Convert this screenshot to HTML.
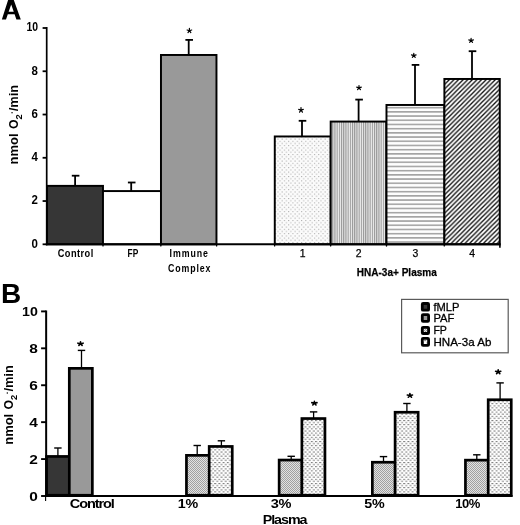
<!DOCTYPE html><html><head><meta charset="utf-8"><style>html,body{margin:0;padding:0;background:#fff;width:520px;height:525px;overflow:hidden}svg{display:block;will-change:transform}text{font-family:"Liberation Sans", sans-serif;fill:#000}</style></head><body>
<svg width="520" height="525" viewBox="0 0 520 525">
<defs>
<pattern id="pdots" width="4.3" height="4.4" patternUnits="userSpaceOnUse"><rect width="4.3" height="4.4" fill="#fbfbfb"/><rect x="0" y="0" width="1.1" height="1" fill="#aaaaaa"/><rect x="2.15" y="2.2" width="1.1" height="1" fill="#aaaaaa"/></pattern>
<pattern id="pvert" width="2.2" height="4" patternUnits="userSpaceOnUse"><rect width="2.2" height="4" fill="#eeeeee"/><rect x="0" y="0" width="1.1" height="4" fill="#959595"/></pattern>
<pattern id="phorz" width="4" height="4.2" patternUnits="userSpaceOnUse" patternTransform="translate(0,1.85)"><rect width="4" height="4.2" fill="#fdfdfd"/><rect x="0" y="0" width="4" height="1.6" fill="#a4a4a4"/></pattern>
<pattern id="pdiag" width="4.6" height="4.6" patternUnits="userSpaceOnUse"><rect width="4.6" height="4.6" fill="#fff"/><path d="M-1,1L1,-1M0,4.6L4.6,0M3.6,5.6L5.6,3.6" stroke="#111" stroke-width="1.35"/></pattern>
<pattern id="pfp" width="2" height="2" patternUnits="userSpaceOnUse"><rect width="2" height="2" fill="#e2e2e2"/><rect x="0" y="0" width="1" height="1" fill="#a0a0a0"/><rect x="1" y="1" width="1" height="1" fill="#a0a0a0"/></pattern>
<pattern id="phna" width="4.2" height="4.2" patternUnits="userSpaceOnUse"><rect width="4.2" height="4.2" fill="#fff"/><rect x="0" y="0" width="2" height="1" fill="#7a7a7a"/><rect x="2.1" y="2.1" width="2" height="1" fill="#7a7a7a"/></pattern>
</defs>
<path fill-rule="evenodd" d="M1.85,19.6L8.42,-1L13.44,-1L20.8,19.6L16.4,19.6L14.6,14.3L7.8,14.3L6.0,19.6ZM8.65,11.8L11.2,4.6L13.75,11.8Z" fill="#000"/>
<rect x="46.98" y="185.88" width="56.00" height="58.45" fill="#363636" stroke="#000" stroke-width="1.95"/>
<rect x="102.97" y="191.07" width="58.00" height="53.25" fill="#fff" stroke="#000" stroke-width="1.95"/>
<rect x="160.97" y="54.98" width="55.50" height="189.35" fill="#999" stroke="#000" stroke-width="1.95"/>
<rect x="274.78" y="136.47" width="55.90" height="107.85" fill="url(#pdots)" stroke="#000" stroke-width="1.95"/>
<rect x="330.68" y="121.57" width="55.80" height="122.75" fill="url(#pvert)" stroke="#000" stroke-width="1.95"/>
<rect x="386.48" y="104.97" width="57.90" height="139.35" fill="url(#phorz)" stroke="#000" stroke-width="1.95"/>
<rect x="444.38" y="78.97" width="55.40" height="165.35" fill="url(#pdiag)" stroke="#000" stroke-width="1.95"/>
<line x1="46.7" y1="27.0" x2="46.7" y2="245.3" stroke="#000" stroke-width="1.7"/>
<line x1="45.8" y1="244.3" x2="500.7" y2="244.3" stroke="#000" stroke-width="2.0"/>
<line x1="103.0" y1="245" x2="103.0" y2="246.6" stroke="#000" stroke-width="1.2"/>
<line x1="160.8" y1="245" x2="160.8" y2="246.6" stroke="#000" stroke-width="1.2"/>
<line x1="216.6" y1="245" x2="216.6" y2="246.6" stroke="#000" stroke-width="1.2"/>
<line x1="274.6" y1="245" x2="274.6" y2="246.6" stroke="#000" stroke-width="1.2"/>
<line x1="330.6" y1="245" x2="330.6" y2="246.6" stroke="#000" stroke-width="1.2"/>
<line x1="386.5" y1="245" x2="386.5" y2="246.6" stroke="#000" stroke-width="1.2"/>
<line x1="444.3" y1="245" x2="444.3" y2="246.6" stroke="#000" stroke-width="1.2"/>
<line x1="499.9" y1="245" x2="499.9" y2="247.8" stroke="#000" stroke-width="1.6"/>
<line x1="42.6" y1="244.3" x2="46.7" y2="244.3" stroke="#000" stroke-width="1.8"/>
<line x1="42.6" y1="201.04000000000002" x2="46.7" y2="201.04000000000002" stroke="#000" stroke-width="1.8"/>
<line x1="42.6" y1="157.78" x2="46.7" y2="157.78" stroke="#000" stroke-width="1.8"/>
<line x1="42.6" y1="114.51999999999998" x2="46.7" y2="114.51999999999998" stroke="#000" stroke-width="1.8"/>
<line x1="42.6" y1="71.25999999999999" x2="46.7" y2="71.25999999999999" stroke="#000" stroke-width="1.8"/>
<line x1="42.6" y1="28.0" x2="46.7" y2="28.0" stroke="#000" stroke-width="1.8"/>
<text x="38.0" y="247.70000000000002" font-size="12.4" font-weight="bold" text-anchor="end" textLength="6.4" lengthAdjust="spacingAndGlyphs">0</text>
<text x="38.0" y="204.44000000000003" font-size="12.4" font-weight="bold" text-anchor="end" textLength="6.4" lengthAdjust="spacingAndGlyphs">2</text>
<text x="38.0" y="161.18" font-size="12.4" font-weight="bold" text-anchor="end" textLength="6.4" lengthAdjust="spacingAndGlyphs">4</text>
<text x="38.0" y="117.91999999999999" font-size="12.4" font-weight="bold" text-anchor="end" textLength="6.4" lengthAdjust="spacingAndGlyphs">6</text>
<text x="38.0" y="74.66" font-size="12.4" font-weight="bold" text-anchor="end" textLength="6.4" lengthAdjust="spacingAndGlyphs">8</text>
<text x="38.0" y="31.4" font-size="12.4" font-weight="bold" text-anchor="end" textLength="11.6" lengthAdjust="spacingAndGlyphs">10</text>
<line x1="75.1" y1="175.70000000000002" x2="75.1" y2="185.9" stroke="#000" stroke-width="1.8"/>
<rect x="71.80" y="174.8" width="7.6" height="1.8" fill="#000"/>
<line x1="131.2" y1="182.5" x2="131.2" y2="191.1" stroke="#000" stroke-width="1.8"/>
<rect x="127.90" y="181.6" width="7.6" height="1.8" fill="#000"/>
<line x1="188.7" y1="39.9" x2="188.7" y2="55.0" stroke="#000" stroke-width="1.8"/>
<rect x="185.40" y="39.0" width="7.6" height="1.8" fill="#000"/>
<line x1="302.0" y1="120.80000000000001" x2="302.0" y2="136.5" stroke="#000" stroke-width="1.8"/>
<rect x="298.70" y="119.9" width="7.6" height="1.8" fill="#000"/>
<line x1="358.6" y1="99.60000000000001" x2="358.6" y2="121.6" stroke="#000" stroke-width="1.8"/>
<rect x="355.30" y="98.7" width="7.6" height="1.8" fill="#000"/>
<line x1="415.0" y1="64.9" x2="415.0" y2="105.0" stroke="#000" stroke-width="1.8"/>
<rect x="411.70" y="64.0" width="7.6" height="1.8" fill="#000"/>
<line x1="472.0" y1="51.199999999999996" x2="472.0" y2="79.0" stroke="#000" stroke-width="1.8"/>
<rect x="468.70" y="50.3" width="7.6" height="1.8" fill="#000"/>
<path d="M189.40,30.72L189.40,28.40M189.40,30.72L191.70,30.00M189.40,30.72L190.82,32.60M189.40,30.72L187.98,32.60M189.40,30.72L187.10,30.00" stroke="#000" stroke-width="1.2" stroke-linecap="round" fill="none"/>
<path d="M301.00,110.14L301.00,107.60M301.00,110.14L303.30,109.36M301.00,110.14L302.42,112.20M301.00,110.14L299.58,112.20M301.00,110.14L298.70,109.36" stroke="#000" stroke-width="1.2" stroke-linecap="round" fill="none"/>
<path d="M359.00,87.81L359.00,85.60M359.00,87.81L361.30,87.13M359.00,87.81L360.42,89.60M359.00,87.81L357.58,89.60M359.00,87.81L356.70,87.13" stroke="#000" stroke-width="1.2" stroke-linecap="round" fill="none"/>
<path d="M413.80,55.61L413.80,53.40M413.80,55.61L416.10,54.93M413.80,55.61L415.22,57.40M413.80,55.61L412.38,57.40M413.80,55.61L411.50,54.93" stroke="#000" stroke-width="1.2" stroke-linecap="round" fill="none"/>
<path d="M471.10,40.61L471.10,38.40M471.10,40.61L473.40,39.93M471.10,40.61L472.52,42.40M471.10,40.61L469.68,42.40M471.10,40.61L468.80,39.93" stroke="#000" stroke-width="1.2" stroke-linecap="round" fill="none"/>
<text transform="translate(57.7,257.0) scale(0.84,1)" font-size="11" font-weight="bold" letter-spacing="0.55" text-anchor="start">Control</text>
<text transform="translate(127.5,257.2) scale(0.76,1)" font-size="11" font-weight="bold" letter-spacing="0.1" text-anchor="start">FP</text>
<text transform="translate(169.6,257.0) scale(0.8,1)" font-size="11" font-weight="bold" letter-spacing="1.15" text-anchor="start">Immune</text>
<text transform="translate(168.0,271.6) scale(0.8,1)" font-size="11" font-weight="bold" letter-spacing="1.1" text-anchor="start">Complex</text>
<text x="302.725" y="256.7" font-size="10.4" font-weight="normal" text-anchor="middle" stroke="#000" stroke-width="0.25">1</text>
<text x="358.57500000000005" y="256.7" font-size="10.4" font-weight="normal" text-anchor="middle" stroke="#000" stroke-width="0.25">2</text>
<text x="415.425" y="256.7" font-size="10.4" font-weight="normal" text-anchor="middle" stroke="#000" stroke-width="0.25">3</text>
<text x="472.07500000000005" y="256.7" font-size="10.4" font-weight="normal" text-anchor="middle" stroke="#000" stroke-width="0.25">4</text>
<text x="396.8" y="275.6" font-size="11.2" font-weight="bold" text-anchor="middle" textLength="80" lengthAdjust="spacingAndGlyphs" stroke="#000" stroke-width="0.25">HNA-3a+ Plasma</text>
<g transform="translate(17.6,164.5) rotate(-90)">
<text x="0" y="0" font-size="12" font-weight="bold" textLength="31.0" lengthAdjust="spacingAndGlyphs">nmol</text><text x="35.4" y="0" font-size="12" font-weight="bold" textLength="9.6" lengthAdjust="spacingAndGlyphs">O</text>
<text x="44.9" y="4.5" font-size="9.4" font-weight="bold" textLength="5.2" lengthAdjust="spacingAndGlyphs">2</text>
<rect x="51.2" y="-6.2" width="1.2" height="1.3" fill="#000"/>
<text x="53.2" y="0" font-size="12" font-weight="bold" textLength="26.4" lengthAdjust="spacingAndGlyphs">/min</text>
</g>
<text x="1.0" y="303.1" font-size="28" font-weight="bold" text-anchor="start">B</text>
<rect x="46.55" y="456.45" width="22.90" height="38.80" fill="#363636" stroke="#000" stroke-width="2.7"/>
<rect x="69.30" y="368.35" width="23.05" height="126.90" fill="#999" stroke="#000" stroke-width="2.7"/>
<rect x="186.45" y="455.35" width="22.90" height="39.90" fill="url(#pfp)" stroke="#000" stroke-width="2.7"/>
<rect x="209.20" y="446.45" width="23.05" height="48.80" fill="url(#phna)" stroke="#000" stroke-width="2.7"/>
<rect x="279.15" y="460.05" width="22.90" height="35.20" fill="url(#pfp)" stroke="#000" stroke-width="2.7"/>
<rect x="301.90" y="418.55" width="23.05" height="76.70" fill="url(#phna)" stroke="#000" stroke-width="2.7"/>
<rect x="372.35" y="462.25" width="22.90" height="33.00" fill="url(#pfp)" stroke="#000" stroke-width="2.7"/>
<rect x="395.10" y="412.25" width="23.05" height="83.00" fill="url(#phna)" stroke="#000" stroke-width="2.7"/>
<rect x="465.45" y="460.15" width="22.90" height="35.10" fill="url(#pfp)" stroke="#000" stroke-width="2.7"/>
<rect x="488.20" y="399.75" width="23.05" height="95.50" fill="url(#phna)" stroke="#000" stroke-width="2.7"/>
<line x1="46.15" y1="310.5" x2="46.15" y2="496.5" stroke="#000" stroke-width="2.0"/>
<line x1="45.6" y1="496.5" x2="45.6" y2="501" stroke="#000" stroke-width="1.1"/>
<line x1="45.2" y1="496.0" x2="512.6" y2="496.0" stroke="#000" stroke-width="1.8"/>
<line x1="41.1" y1="496.0" x2="46.2" y2="496.0" stroke="#000" stroke-width="1.9"/>
<line x1="41.1" y1="459.08" x2="46.2" y2="459.08" stroke="#000" stroke-width="1.9"/>
<line x1="41.1" y1="422.15999999999997" x2="46.2" y2="422.15999999999997" stroke="#000" stroke-width="1.9"/>
<line x1="41.1" y1="385.24" x2="46.2" y2="385.24" stroke="#000" stroke-width="1.9"/>
<line x1="41.1" y1="348.32" x2="46.2" y2="348.32" stroke="#000" stroke-width="1.9"/>
<line x1="41.1" y1="311.4" x2="46.2" y2="311.4" stroke="#000" stroke-width="1.9"/>
<text x="37.9" y="500.5" font-size="12.8" font-weight="bold" text-anchor="end" textLength="8.6" lengthAdjust="spacingAndGlyphs">0</text>
<text x="37.9" y="463.58" font-size="12.8" font-weight="bold" text-anchor="end" textLength="8.6" lengthAdjust="spacingAndGlyphs">2</text>
<text x="37.9" y="426.65999999999997" font-size="12.8" font-weight="bold" text-anchor="end" textLength="8.6" lengthAdjust="spacingAndGlyphs">4</text>
<text x="37.9" y="389.74" font-size="12.8" font-weight="bold" text-anchor="end" textLength="8.6" lengthAdjust="spacingAndGlyphs">6</text>
<text x="37.9" y="352.82" font-size="12.8" font-weight="bold" text-anchor="end" textLength="8.6" lengthAdjust="spacingAndGlyphs">8</text>
<text x="37.9" y="315.9" font-size="12.8" font-weight="bold" text-anchor="end" textLength="15.8" lengthAdjust="spacingAndGlyphs">10</text>
<line x1="57.9" y1="448.0" x2="57.9" y2="456.1" stroke="#000" stroke-width="1.3"/>
<rect x="54.20" y="447.3" width="7.4" height="1.4" fill="#000"/>
<line x1="81.5" y1="350.4" x2="81.5" y2="368.0" stroke="#000" stroke-width="1.3"/>
<rect x="77.80" y="349.7" width="7.4" height="1.4" fill="#000"/>
<line x1="197.2" y1="445.5" x2="197.2" y2="455.0" stroke="#000" stroke-width="1.3"/>
<rect x="193.50" y="444.8" width="7.4" height="1.4" fill="#000"/>
<line x1="221.4" y1="440.8" x2="221.4" y2="446.1" stroke="#000" stroke-width="1.3"/>
<rect x="217.70" y="440.1" width="7.4" height="1.4" fill="#000"/>
<line x1="291.2" y1="456.3" x2="291.2" y2="459.7" stroke="#000" stroke-width="1.3"/>
<rect x="287.50" y="455.6" width="7.4" height="1.4" fill="#000"/>
<line x1="313.6" y1="411.9" x2="313.6" y2="418.2" stroke="#000" stroke-width="1.3"/>
<rect x="309.90" y="411.2" width="7.4" height="1.4" fill="#000"/>
<line x1="383.5" y1="456.59999999999997" x2="383.5" y2="461.9" stroke="#000" stroke-width="1.3"/>
<rect x="379.80" y="455.9" width="7.4" height="1.4" fill="#000"/>
<line x1="406.9" y1="403.5" x2="406.9" y2="411.9" stroke="#000" stroke-width="1.3"/>
<rect x="403.20" y="402.8" width="7.4" height="1.4" fill="#000"/>
<line x1="476.8" y1="454.8" x2="476.8" y2="459.8" stroke="#000" stroke-width="1.3"/>
<rect x="473.10" y="454.1" width="7.4" height="1.4" fill="#000"/>
<line x1="500.1" y1="382.9" x2="500.1" y2="399.4" stroke="#000" stroke-width="1.3"/>
<rect x="496.40" y="382.2" width="7.4" height="1.4" fill="#000"/>
<path d="M80.50,343.79L80.50,341.80M80.50,343.79L83.10,343.17M80.50,343.79L82.11,345.40M80.50,343.79L78.89,345.40M80.50,343.79L77.90,343.17" stroke="#000" stroke-width="1.6" stroke-linecap="round" fill="none"/>
<path d="M314.40,403.30L314.40,401.20M314.40,403.30L317.00,402.65M314.40,403.30L316.01,405.00M314.40,403.30L312.79,405.00M314.40,403.30L311.80,402.65" stroke="#000" stroke-width="1.6" stroke-linecap="round" fill="none"/>
<path d="M409.90,395.59L409.90,393.60M409.90,395.59L412.50,394.97M409.90,395.59L411.51,397.20M409.90,395.59L408.29,397.20M409.90,395.59L407.30,394.97" stroke="#000" stroke-width="1.6" stroke-linecap="round" fill="none"/>
<path d="M498.20,371.90L498.20,369.80M498.20,371.90L500.80,371.25M498.20,371.90L499.81,373.60M498.20,371.90L496.59,373.60M498.20,371.90L495.60,371.25" stroke="#000" stroke-width="1.6" stroke-linecap="round" fill="none"/>
<text transform="translate(91.7,508.0) scale(1.12,1)" font-size="13" font-weight="bold" letter-spacing="-1.0" text-anchor="middle">Control</text>
<text transform="translate(187.8,508.4) scale(1.1,1)" font-size="13" font-weight="bold" letter-spacing="-0.3" text-anchor="middle">1%</text>
<text transform="translate(280.9,508.2) scale(1.12,1)" font-size="13" font-weight="bold" letter-spacing="-0.3" text-anchor="middle">3%</text>
<text transform="translate(374.4,508.2) scale(1.1,1)" font-size="13" font-weight="bold" letter-spacing="-0.2" text-anchor="middle">5%</text>
<text transform="translate(467.5,508.2) scale(1.0,1)" font-size="13" font-weight="bold" letter-spacing="-0.5" text-anchor="middle">10%</text>
<text transform="translate(284.6,524.3) scale(1.1,1)" font-size="13" font-weight="bold" letter-spacing="-0.95" text-anchor="middle">Plasma</text>
<g transform="translate(12.9,444.8) rotate(-90)">
<text x="0" y="0" font-size="12" font-weight="bold" textLength="31.0" lengthAdjust="spacingAndGlyphs">nmol</text><text x="35.4" y="0" font-size="12" font-weight="bold" textLength="9.6" lengthAdjust="spacingAndGlyphs">O</text>
<text x="44.9" y="4.5" font-size="9.4" font-weight="bold" textLength="5.2" lengthAdjust="spacingAndGlyphs">2</text>
<rect x="51.2" y="-6.2" width="1.2" height="1.3" fill="#000"/>
<text x="53.2" y="0" font-size="12" font-weight="bold" textLength="26.4" lengthAdjust="spacingAndGlyphs">/min</text>
</g>
<rect x="401.6" y="299.4" width="106.6" height="53.4" fill="#fff" stroke="#5a5a5a" stroke-width="1.2"/>
<rect x="422.30" y="303.50" width="6.30" height="6.70" rx="0.8" fill="#363636" stroke="#000" stroke-width="2.8"/>
<text x="433.4" y="310.70000000000005" font-size="11.8" font-weight="normal" text-anchor="start" textLength="26" lengthAdjust="spacingAndGlyphs" stroke="#000" stroke-width="0.3">fMLP</text>
<rect x="422.30" y="314.70" width="6.30" height="6.60" rx="0.8" fill="#999" stroke="#000" stroke-width="2.8"/>
<text x="433.4" y="321.8" font-size="11.8" font-weight="normal" text-anchor="start" textLength="21" lengthAdjust="spacingAndGlyphs" stroke="#000" stroke-width="0.3">PAF</text>
<rect x="422.30" y="327.30" width="6.30" height="6.20" rx="0.8" fill="url(#pfp)" stroke="#000" stroke-width="2.8"/>
<text x="433.4" y="334.0" font-size="11.8" font-weight="normal" text-anchor="start" textLength="13.5" lengthAdjust="spacingAndGlyphs" stroke="#000" stroke-width="0.3">FP</text>
<rect x="422.30" y="338.40" width="6.30" height="6.90" rx="0.8" fill="url(#phna)" stroke="#000" stroke-width="2.8"/>
<text x="433.4" y="345.8" font-size="11.8" font-weight="normal" text-anchor="start" textLength="58" lengthAdjust="spacingAndGlyphs" stroke="#000" stroke-width="0.3">HNA-3a Ab</text>
</svg></body></html>
